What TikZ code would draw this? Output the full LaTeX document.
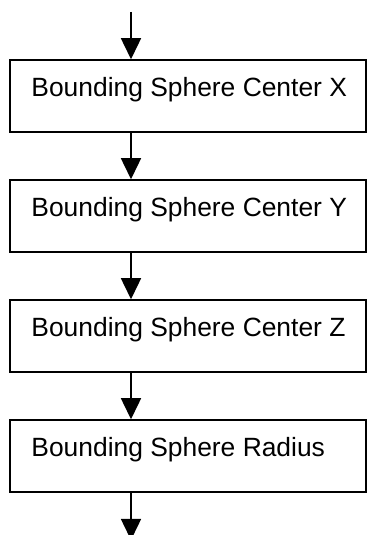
\documentclass[tikz,border=0pt]{standalone}
\usepackage{fontspec}
\setmainfont{Liberation Sans}
\usetikzlibrary{arrows.meta}
\tikzset{
  field/.style={draw,line width=1.5pt,minimum width=356pt,minimum height=72pt,inner sep=0pt},
  fieldtext/.style={anchor=base west,inner sep=0pt,font=\fontsize{26.4}{30}\selectfont},
  flow/.style={line width=1.5pt,-{Triangle[length=21pt,width=20pt]}}
}
\begin{document}
\begin{tikzpicture}[x=1pt,y=1pt]
\useasboundingbox (0,0) rectangle (368,535);
\coordinate (in) at (131,523);
\coordinate (out) at (131,-5);
\node[field](b1) at (188,439) {};
\node[field](b2) at (188,319) {};
\node[field](b3) at (188,199) {};
\node[field](b4) at (188,79) {};
\node[fieldtext](t1) at ([xshift=22pt,yshift=-1pt]b1.west) {Bounding Sphere Center X};
\node[fieldtext](t2) at ([xshift=22pt,yshift=-1pt]b2.west) {Bounding Sphere Center Y};
\node[fieldtext](t3) at ([xshift=22pt,yshift=-1pt]b3.west) {Bounding Sphere Center Z};
\node[fieldtext](t4) at ([xshift=22pt,yshift=-1pt]b4.west) {Bounding Sphere Radius};
\draw[flow] (in)--(b1.north -| in);
\draw[flow] (b1.south -| in)--(b2.north -| in);
\draw[flow] (b2.south -| in)--(b3.north -| in);
\draw[flow] (b3.south -| in)--(b4.north -| in);
\draw[flow] (b4.south -| in)--(out);
\end{tikzpicture}
\end{document}
